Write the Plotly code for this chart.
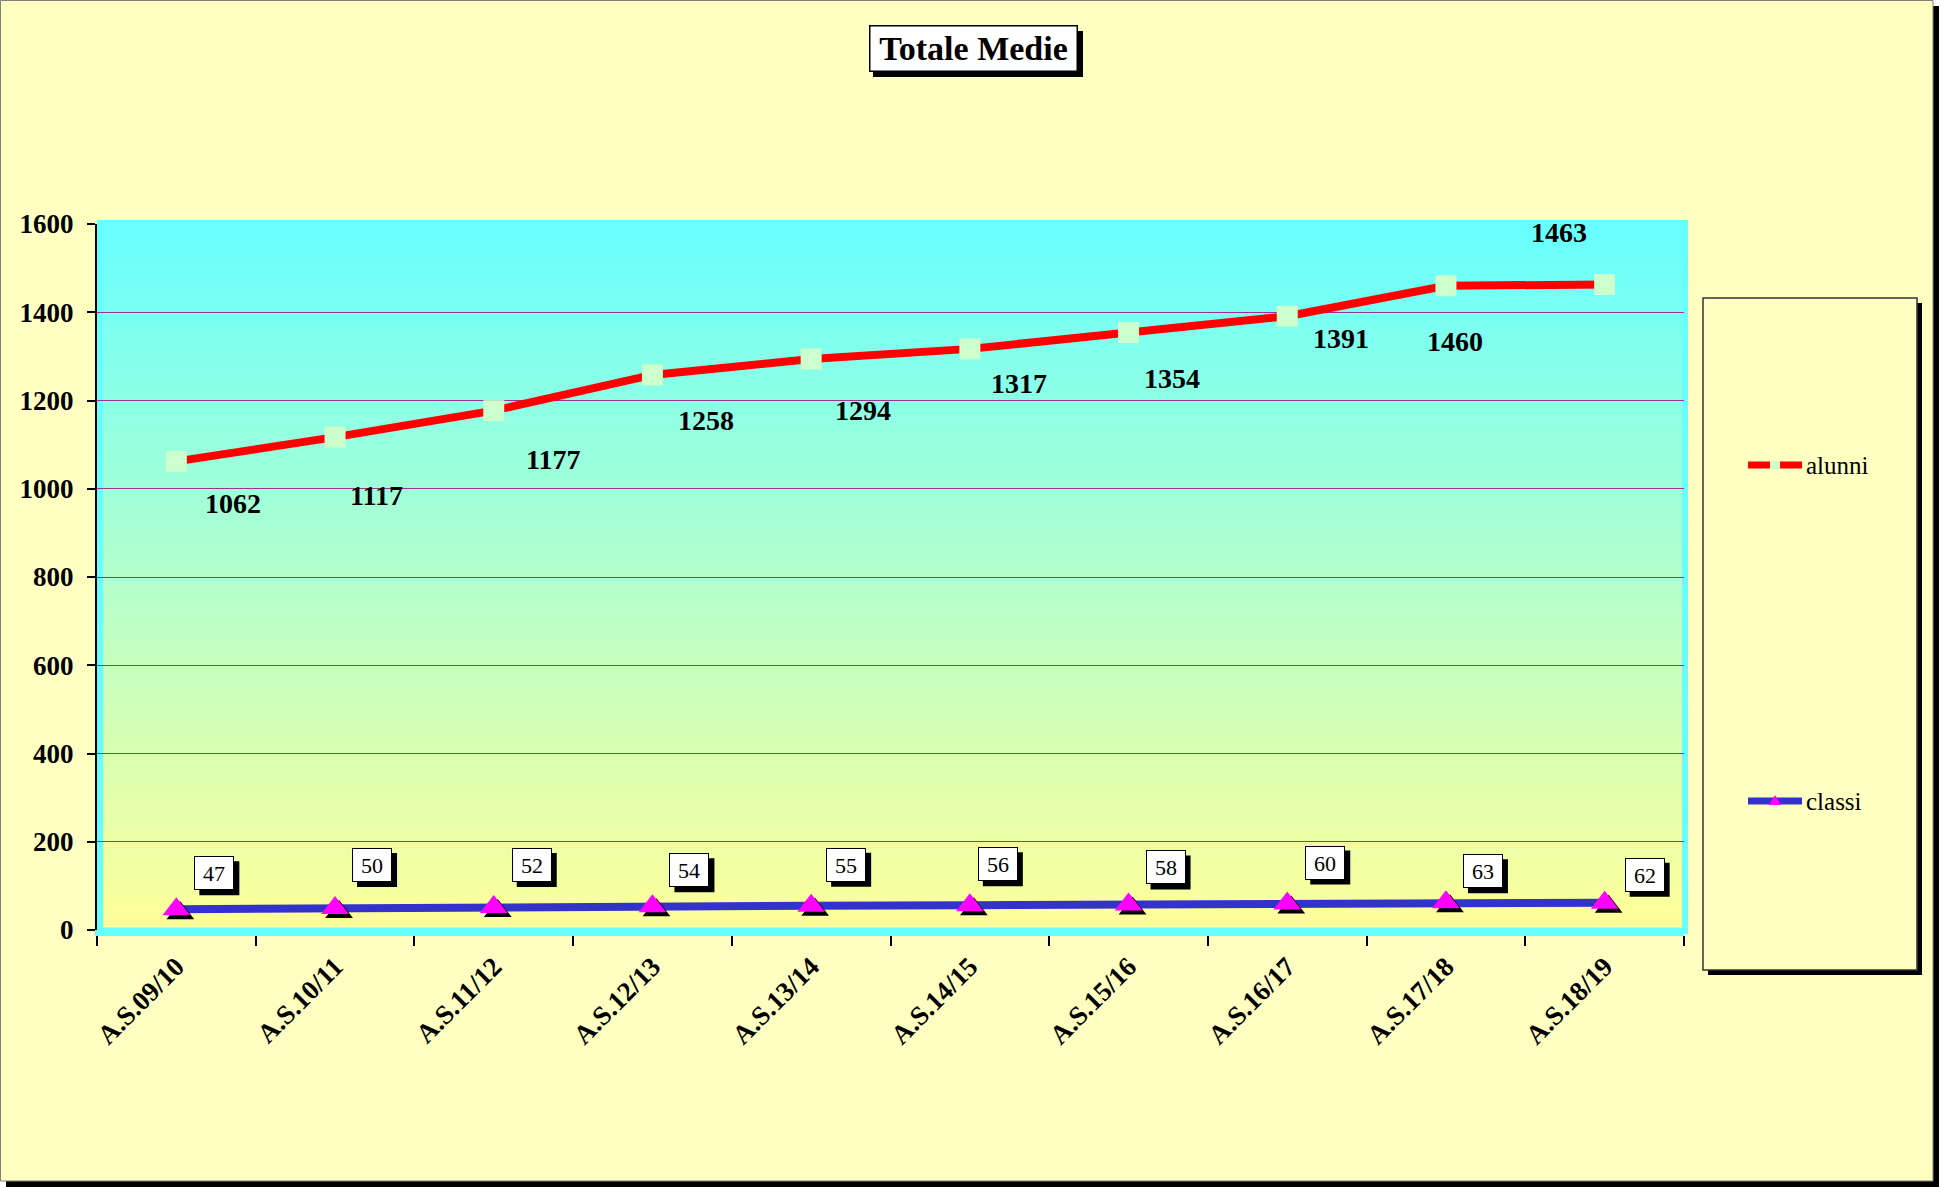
import plotly.graph_objects as go

# data
anni = ['A.S.09/10', 'A.S.10/11', 'A.S.11/12', 'A.S.12/13', 'A.S.13/14',
        'A.S.14/15', 'A.S.15/16', 'A.S.16/17', 'A.S.17/18', 'A.S.18/19']
alunni = [1062, 1117, 1177, 1258, 1294, 1317, 1354, 1391, 1460, 1463]
classi = [47, 50, 52, 54, 55, 56, 58, 60, 63, 62]

# label offsets in px (as placed in the original chart)
alunni_dx = [57, 41, 59, 54, 52, 49, 43, 54, 9, -46]
alunni_dy = [-42, -58, -49, -46, -51, -35, -46, -22, -56, 52]
classi_dx = [38, 37, 38, 37, 35, 28, 37, 38, 37, 40]
classi_dy = [36, 43, 42, 36, 41, 41, 37, 41, 31, 28]

W, H = 1939, 1187
L, R, T, B = 97, 1684, 224, 930   # plot area in px


def px(x):
    return (x - L) / (R - L)


def py(y):
    return (B - y) / (B - T)


serif = 'Liberation Serif'
red, blue, mint, magenta = '#FF0000', '#3333CC', '#CCFFCC', '#FF00FF'

fig = go.Figure()

fig.add_trace(go.Scatter(x=anni, y=alunni, name='alunni', mode='lines+markers',
                         line=dict(color=red, width=8),
                         marker=dict(symbol='square', size=21, color=mint),
                         showlegend=False))
fig.add_trace(go.Scatter(x=anni, y=classi, name='classi', mode='lines',
                         line=dict(color=blue, width=8), showlegend=False))
# shadow of the triangles (shifted axes)
fig.add_trace(go.Scatter(x=anni, y=classi, mode='markers', showlegend=False,
                         marker=dict(symbol='triangle-up', size=24, color='black'),
                         xaxis='x2', yaxis='y2', hoverinfo='skip'))
fig.add_trace(go.Scatter(x=anni, y=classi, name='classi', mode='markers', showlegend=False,
                         marker=dict(symbol='triangle-up', size=24, color=magenta),
                         xaxis='x3', yaxis='y3'))

shapes = []
# outer frame with shadow
shapes.append(dict(type='rect', xref='paper', yref='paper', layer='below',
                   x0=px(6), x1=px(W), y0=py(6), y1=py(H),
                   fillcolor='black', line=dict(width=0)))
shapes.append(dict(type='rect', xref='paper', yref='paper', layer='below',
                   x0=px(0.5), x1=px(W - 6), y0=py(0.5), y1=py(H - 6),
                   fillcolor='#FFFFC2', line=dict(color='#808080', width=1)))
# cyan frame of plot area
shapes.append(dict(type='rect', xref='paper', yref='paper', layer='below',
                   x0=px(97), x1=px(1688), y0=py(220), y1=py(934),
                   fillcolor='#66FFFF', line=dict(width=0)))
# gradient bands
nb = 120
gx0, gx1, gy0, gy1 = 103, 1682, 222, 927
c0 = (102, 255, 255)
c1 = (255, 255, 153)
for i in range(nb):
    t = (i + 0.5) / nb
    col = tuple(round(c0[k] + (c1[k] - c0[k]) * t) for k in range(3))
    ya = gy0 + (gy1 - gy0) * i / nb
    yb = gy0 + (gy1 - gy0) * (i + 1) / nb + 0.6
    shapes.append(dict(type='rect', xref='paper', yref='paper', layer='below',
                       x0=px(gx0), x1=px(gx1), y0=py(ya), y1=py(yb),
                       fillcolor='rgb(%d,%d,%d)' % col, line=dict(width=0)))
# legend box with shadow
shapes.append(dict(type='rect', xref='paper', yref='paper', layer='below',
                   x0=px(1708), x1=px(1922), y0=py(303), y1=py(975),
                   fillcolor='black', line=dict(width=0)))
shapes.append(dict(type='rect', xref='paper', yref='paper', layer='below',
                   x0=px(1703), x1=px(1917), y0=py(298), y1=py(970),
                   fillcolor='#FFFFC2', line=dict(color='#333333', width=1.5)))
# legend symbols
for yy, lc in [(465, red), (801, blue)]:
    shapes.append(dict(type='line', xref='paper', yref='paper', layer='above',
                       x0=px(1748), x1=px(1802), y0=py(yy), y1=py(yy),
                       line=dict(color=lc, width=7)))
shapes.append(dict(type='rect', xref='paper', yref='paper', layer='above',
                   x0=px(1770), x1=px(1780), y0=py(461), y1=py(469),
                   fillcolor=mint, line=dict(width=0)))
shapes.append(dict(type='path', xref='paper', yref='paper', layer='above',
                   path='M %f %f L %f %f L %f %f Z' % (px(1769), py(805), px(1781), py(805),
                                                       px(1775), py(795)),
                   fillcolor=magenta, line=dict(width=0)))
# title shadow
shapes.append(dict(type='rect', xref='paper', yref='paper', layer='above',
                   x0=px(873), x1=px(1083), y0=py(31), y1=py(77),
                   fillcolor='black', line=dict(width=0)))
# shadows of classi boxes
for i, (v, dx, dy) in enumerate(zip(classi, classi_dx, classi_dy)):
    shapes.append(dict(type='rect', xref='x', yref='y', layer='above',
                       xsizemode='pixel', ysizemode='pixel', xanchor=i, yanchor=v,
                       x0=dx - 20 + 5, x1=dx + 20 + 5, y0=dy - 17 - 5, y1=dy + 17 - 5,
                       fillcolor='black', line=dict(width=0)))

annotations = []
annotations.append(dict(text='<b>Totale Medie</b>', xref='paper', yref='paper',
                        x=px(973), y=py(49), xanchor='center', yanchor='middle',
                        showarrow=False, width=204, height=42, borderpad=1,
                        font=dict(family=serif, size=34, color='black'),
                        bgcolor='white', bordercolor='black', borderwidth=1.5))
# alunni labels
for a, v, dx, dy in zip(anni, alunni, alunni_dx, alunni_dy):
    annotations.append(dict(text='<b>%d</b>' % v, x=a, y=v, showarrow=False,
                            xshift=dx, yshift=dy,
                            font=dict(family=serif, size=28, color='black')))
# classi labels (boxed)
for a, v, dx, dy in zip(anni, classi, classi_dx, classi_dy):
    annotations.append(dict(text=str(v), x=a, y=v, showarrow=False,
                            xshift=dx, yshift=dy, width=36, height=30, borderpad=1,
                            font=dict(family=serif, size=22, color='black'),
                            bgcolor='white', bordercolor='black', borderwidth=1))
# legend texts
for txt, yy in [('alunni', 465), ('classi', 801)]:
    annotations.append(dict(text=txt, xref='paper', yref='paper', x=px(1804), y=py(yy),
                            xanchor='left', yanchor='middle', showarrow=False,
                            font=dict(family=serif, size=25, color='black')))

dxs = 4 / ((R - L) / 10)
dys = 4 / ((B - T) / 1600)

fig.update_layout(
    width=W, height=H,
    margin=dict(l=L, r=W - R, t=T, b=H - B, pad=0),
    paper_bgcolor='white', plot_bgcolor='rgba(0,0,0,0)',
    shapes=shapes, annotations=annotations, showlegend=False,
    xaxis=dict(type='category', range=[-0.5, 9.5], tickson='boundaries',
               ticks='outside', ticklen=10, tickwidth=1.5, tickcolor='black',
               showline=True, linecolor='#66FFFF', linewidth=6, showgrid=False,
               tickangle=-45, ticklabelstandoff=4,
               tickfont=dict(family=serif, size=27, color='black'),
               tickprefix='<b>', ticksuffix='</b>'),
    yaxis=dict(range=[0, 1600], dtick=200, ticks='outside', ticklen=8,
               tickwidth=1.5, tickcolor='black', showline=True, linecolor='black',
               linewidth=2, showgrid=True, gridcolor='#993399', gridwidth=1,
               zeroline=False, ticklabelstandoff=8,
               tickfont=dict(family=serif, size=27, color='black'),
               tickprefix='<b>', ticksuffix='</b>'),
    xaxis2=dict(type='category', overlaying='x', range=[-0.5 - dxs, 9.5 - dxs],
                visible=False),
    yaxis2=dict(overlaying='y', range=[dys, 1600 + dys], visible=False),
    xaxis3=dict(type='category', overlaying='x', range=[-0.5, 9.5], visible=False),
    yaxis3=dict(overlaying='y', range=[0, 1600], visible=False),
)

fig.write_html('out.html', config={'displayModeBar': False},
               post_script="document.body.style.margin='0';")
